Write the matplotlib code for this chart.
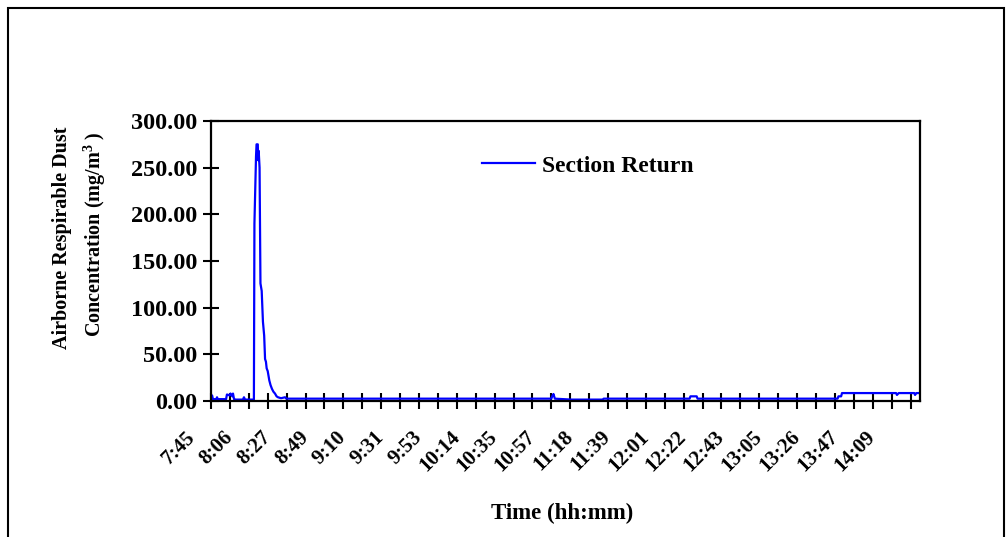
import matplotlib
matplotlib.use("Agg")
import matplotlib.pyplot as plt
from matplotlib.patches import Rectangle
from matplotlib.transforms import ScaledTranslation
import numpy as np

# dust readings, minutes after 7:45
minutes = [0, 0.6, 1.1, 3.0, 3.4, 3.8, 8.5, 9.0, 10.5, 11.0, 12.0, 12.4, 13.0, 14.0,
           18.0, 18.6, 19.2, 24.2, 24.5, 25.4, 25.7, 26.4, 26.6, 26.9, 27.4, 27.9,
           28.6, 29.3, 30.0, 30.5, 31.0, 31.4, 32.0, 32.9, 33.6, 34.4, 35.2, 36.1,
           37.0, 37.8, 39.5, 41.8, 42.5, 192.0, 192.5, 193.2, 194.0, 203.5, 221.0,
           221.5, 270.0, 270.5, 274.0, 274.5, 353.5, 354.0, 355.5, 356.0, 386.5,
           387.0, 388.0, 396.8, 397.2, 398.0, 400.0]
dust = [2, 6, 2, 2, 4, 2, 2, 7, 6, 8, 5, 8, 2, 1.5,
        1.5, 4, 1.5, 1.5, 190, 262, 275, 275, 258, 268, 250, 126,
        118, 85, 70, 45, 42, 35, 32, 22, 17, 13, 10, 8,
        5, 4, 3, 4, 2.5, 2.5, 5, 7.5, 2.5, 1.5, 1.5,
        2.5, 2.5, 5, 5, 2.5, 2.5, 5, 5, 8.5, 8.5,
        6.5, 8.5, 8.5, 6.5, 8.5, 8.5]

time_labels = ["7:45", "8:06", "8:27", "8:49", "9:10", "9:31", "9:53", "10:14",
               "10:35", "10:57", "11:18", "11:39", "12:01", "12:22", "12:43",
               "13:05", "13:26", "13:47", "14:09"]
label_step = 64 / 3  # 64 samples of 20 s
tick_step = 32 / 3

plt.rcParams["font.family"] = "Liberation Serif"
plt.rcParams["font.weight"] = "bold"
plt.rcParams["mathtext.fontset"] = "custom"
plt.rcParams["mathtext.bf"] = "Liberation Serif:bold"
plt.rcParams["mathtext.rm"] = "Liberation Serif:bold"

fig = plt.figure(figsize=(10.08, 5.37), dpi=100)
W, H = 1008, 537
ax = fig.add_axes([211 / W, (H - 401) / H, (920 - 211) / W, (401 - 121) / H])

ax.plot(minutes, dust, color="#0000ff", lw=1.6, label="Section Return")

ax.set_xlim(0, 400)
ax.set_ylim(0, 300)
ax.set_yticks(np.arange(0, 301, 50))
ax.set_yticklabels(["%.2f" % v for v in np.arange(0, 301, 50)])
ax.set_xticks(np.arange(0, 400, tick_step))
ax.set_xticklabels([])
shift = ScaledTranslation(-0.19, -0.19, fig.dpi_scale_trans)
for i, lab in enumerate(time_labels):
    ax.text(i * label_step, -0.05, lab, transform=ax.get_xaxis_transform() + shift,
            rotation=45, ha="right", va="center", rotation_mode="anchor",
            fontsize=15, fontweight="bold")

for s in ax.spines.values():
    s.set_linewidth(1.6)
ax.tick_params(axis="both", direction="inout", length=12, width=1.5)
ax.tick_params(axis="y", pad=4, labelsize=17.5)

ax.legend(loc="center left", bbox_to_anchor=(0.382, 0.84), frameon=False,
          fontsize=17, handlelength=2.25, handletextpad=0.3, borderpad=0,
          borderaxespad=0)

fig.text(562 / W, 1 - 513 / H, "Time (hh:mm)", ha="center", va="center",
         fontsize=16.5, fontweight="bold")
fig.text(62 / W, 1 - 238 / H, "Airborne Respirable Dust", rotation=90,
         ha="center", va="center", fontsize=14.5, fontweight="bold")
fig.text(95 / W, 1 - 234 / H, r"Concentration (mg/m$^{\mathbf{3}}$ )", rotation=90,
         ha="center", va="center", fontsize=14.5, fontweight="bold")

fig.patches.append(Rectangle((8 / W, -0.05), (1004 - 8) / W, 1.05 - 8 / H,
                             transform=fig.transFigure, fill=False,
                             edgecolor="black", lw=1.5))

fig.savefig("out.png", dpi=100)
